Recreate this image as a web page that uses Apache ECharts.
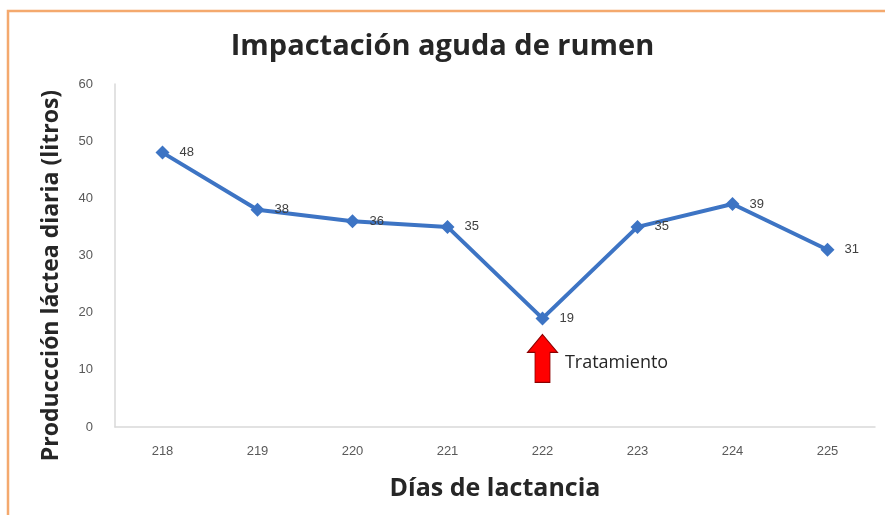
<!DOCTYPE html>
<html><head><meta charset="utf-8">
<script src="https://cdn.jsdelivr.net/npm/echarts@6/dist/echarts.min.js"></script>
<style>html,body{margin:0;padding:0;background:#fff}#c{width:885px;height:515px}</style>
</head><body><div id="c"></div>
<script>
var categories = ['218','219','220','221','222','223','224','225'];
var produccion = [48, 38, 36, 35, 19, 35, 39, 31];
var yTicks = [0, 10, 20, 30, 40, 50, 60];
var treatmentDay = '222';
var treatmentLabel = 'Tratamiento';
var arrowLevel = 12;

var chart = echarts.init(document.getElementById('c'));
chart.setOption({
  backgroundColor: '#fff',
  animation: false,
  graphic: [{
    type: 'rect', silent: true,
    shape: { x: 8, y: 11, width: 900, height: 520 },
    style: { fill: 'none', stroke: '#f4a96e', lineWidth: 2.5 }
  }],
  title: {
    text: 'Impactación aguda de rumen',
    left: 'center', top: 27,
    textStyle: { fontFamily: 'Open Sans', fontWeight: 'bold', fontSize: 29, color: '#262626' }
  },
  grid: { left: 115, right: 10, top: 84, bottom: 88, containLabel: false },
  xAxis: {
    type: 'category', data: categories, boundaryGap: true,
    name: 'Días de lactancia', nameLocation: 'middle', nameGap: 49,
    nameTextStyle: { fontFamily: 'Open Sans', fontWeight: 'bold', fontSize: 25, color: '#262626' },
    axisLine: { lineStyle: { color: '#d9d9d9', width: 1.5 } },
    axisTick: { show: false },
    axisLabel: { color: '#595959', fontFamily: 'Liberation Sans', fontSize: 13, margin: 18 }
  },
  yAxis: {
    type: 'value', min: yTicks[0], max: yTicks[yTicks.length - 1], interval: 10,
    name: 'Produccción láctea diaria (litros)', nameLocation: 'middle', nameGap: 52,
    nameTextStyle: { fontFamily: 'Open Sans', fontWeight: 'bold', fontSize: 23, color: '#262626', padding: [0, 40, 0, 0] },
    axisLine: { show: true, lineStyle: { color: '#d9d9d9', width: 1.5 } },
    axisTick: { show: false },
    splitLine: { show: false },
    axisLabel: { color: '#595959', fontFamily: 'Liberation Sans', fontSize: 13, margin: 22 }
  },
  series: [{
    type: 'line', data: produccion,
    symbol: 'diamond', symbolSize: 14,
    lineStyle: { color: '#3d74c4', width: 4 },
    itemStyle: { color: '#3d74c4' },
    label: { show: true, position: 'right', distance: 10, color: '#404040', fontFamily: 'Liberation Sans', fontSize: 13 },
    markPoint: {
      silent: true,
      data: [{
        coord: [treatmentDay, arrowLevel],
        symbol: 'path://M10,0 L20,12 L15,12 L15,32 L5,32 L5,12 L0,12 Z',
        symbolSize: [30, 48],
        itemStyle: { color: '#ff0000', borderColor: '#8b0000', borderWidth: 1 },
        label: { show: true, formatter: treatmentLabel, position: 'right', distance: 7, offset: [0, 4],
                 color: '#262626', fontFamily: 'Open Sans', fontSize: 18 }
      }]
    }
  }]
});
</script></body></html>
